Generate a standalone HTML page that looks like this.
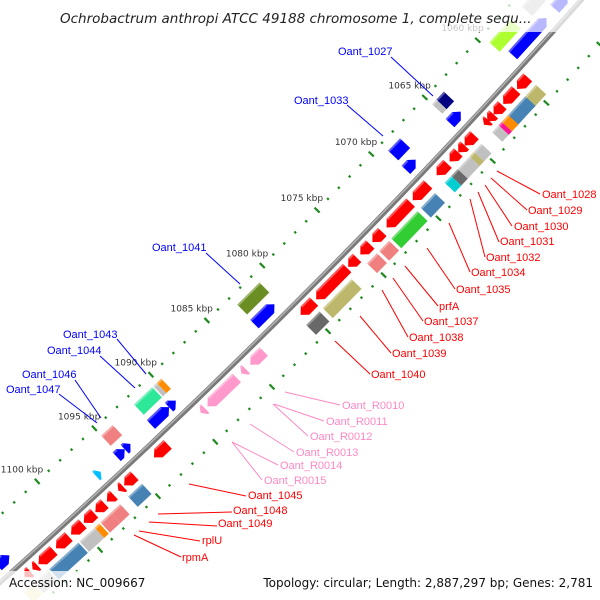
<!DOCTYPE html>
<html><head><meta charset="utf-8"><style>
html,body{margin:0;padding:0;background:#fff;width:600px;height:600px;overflow:hidden;}
svg{display:block;font-family:"Liberation Sans",sans-serif;overflow:hidden;}
</style></head><body>
<svg id="map" width="600" height="600" viewBox="0 0 600 600" xmlns="http://www.w3.org/2000/svg">
<g id="ticks"></g>
<g id="backbone"></g>
<g id="features"></g>
<g id="leaders"></g>
<g id="labels" font-size="11"></g>
<rect x="0" y="0" width="600" height="32" fill="#fff" fill-opacity="0.72"/>
<text x="60" y="23" font-size="13.5" font-style="italic" fill="#222" style="font-family:'DejaVu Sans',sans-serif">Ochrobactrum anthropi ATCC 49188 chromosome 1, complete sequ...</text>
<rect x="0" y="571" width="600" height="29" fill="#fff" fill-opacity="0.75"/>
<text x="9" y="587" font-size="12" fill="#111" style="font-family:'DejaVu Sans',sans-serif">Accession: NC_009667</text>
<text x="593" y="587" font-size="12" fill="#111" text-anchor="end" style="font-family:'DejaVu Sans',sans-serif">Topology: circular; Length: 2,887,297 bp; Genes: 2,781</text>
</svg>
<script>
// feature data (kbp)
const featStart = [1054.0,1055.2,1056.0,1057.6,1063.9,1064.6,1064.1,1068.0,1068.3,1080.9,1081.2,1089.7,1090.1,1090.5,1090.6,1090.0,1094.0,1094.0,1094.5,1096.6,1104.5,
1059.6,1059.6,1060.7,1060.6,1062.0,1062.8,1063.3,1062.2,1062.8,1063.1,1064.6,1065.5,1066.1,1067.1,1064.7,1065.4,1065.8,1066.9,1067.5,1068.9,1069.0,1070.5,1070.6,1073.1,1074.2,1073.2,1074.3,1075.4,1076.3,1076.6,1079.3,1079.5,
1083.8,1085.4,1086.2,1089.0,1092.3,1095.2,1096.2,1095.2,1097.0,1097.8,1098.7,1097.1,1097.9,1098.9,1099.3,1099.5,1099.7,1100.9,1102.2,1103.6,1104.2,1100.7,1103.3,1104.6];
const featEnd = [1055.2,1056.5,1059.2,1059.6,1064.6,1065.0,1065.1,1069.1,1069.2,1082.9,1083.0,1090.1,1090.4,1092.1,1092.2,1090.6,1095.0,1094.5,1095.2,1097.0,1105.5,
1060.6,1060.8,1061.9,1062.4,1062.8,1063.4,1063.7,1062.8,1063.1,1063.7,1065.5,1066.1,1066.9,1068.1,1065.4,1065.8,1066.9,1067.5,1068.1,1070.3,1070.3,1072.7,1073.0,1074.0,1075.1,1074.1,1075.2,1076.2,1079.1,1079.2,1080.5,1080.7,
1085.0,1085.8,1088.8,1089.4,1093.5,1096.1,1096.6,1096.4,1097.6,1098.6,1099.6,1097.9,1098.8,1099.3,1099.5,1100.6,1100.7,1102.0,1103.5,1104.0,1104.7,1103.2,1104.5,1105.4];
const featRing = ["fc","fg","fc","fg","fg","fg","fc","fg","fc","fg","fc","fg","fg","fg","fc","fc","fg","fc","fc","fc","fc",
"rc","rg","rc","rg","rc","rc","rc","rg","rg","rg","rc","rc","rc","rc","rg","rg","rg","rg","rg","rc","rg","rc","rg","rc","rc","rg","rg","rc","rc","rg","rc","rg",
"rc","rc","rc","rc","rc","rc","rc","rg","rc","rc","rc","rg","rg","rg","rg","rg","rc","rc","rc","rc","rc","rg","rg","rg"];
const featColor = ["#0000ff","#c0c0c0","#0000ff","#adff2f","#000080","#c0c0c0","#0000ff","#0000ff","#0000ff","#6b8e23","#0000ff","#ff8c00","#c0c0c0","#2ee89a","#0000ff","#0000ff","#f08080","#0000ff","#0000ff","#00bfff","#0000ff",
"#ff0000","#bdb76b","#ff0000","#4682b4","#ff0000","#ff0000","#ff0000","#ff8c00","#ff1493","#c0c0c0","#ff0000","#ff0000","#ff0000","#ff0000","#c0c0c0","#bdb76b","#c0c0c0","#696969","#00ced1","#ff0000","#4682b4","#ff0000","#32cd32","#ff0000","#ff0000","#f08080","#f08080","#ff0000","#ff0000","#bdb76b","#ff0000","#696969",
"#ff99cc","#ff99cc","#ff99cc","#ff99cc","#ff0000","#ff0000","#ff0000","#4682b4","#ff0000","#ff0000","#ff0000","#f08080","#f08080","#ff8c00","#c0c0c0","#c0c0c0","#ff0000","#ff0000","#ff0000","#ff0000","#ff0000","#4682b4","#c0c0c0","#eee8aa"];
const tickMin = 1053, tickMax = 1106;
const tickLabels = [1060,1065,1070,1075,1080,1085,1090,1095,1100];

const NS = "http://www.w3.org/2000/svg";
const CX = -4808, CY = -4797, R = 7215, REF = 1080.35, DEG = 360/2887.297;
function pt(k, d){ const t=(45+(k-REF)*DEG)*Math.PI/180; return [CX+(R+d)*Math.cos(t), CY+(R+d)*Math.sin(t)]; }
const ringD = {fc:-14, fg:-33, rc:12, rg:30};
const ringW = {fc:12, fg:14, rc:12, rg:14};
function el(tag, attrs, parent){ const e=document.createElementNS(NS,tag); for(const k in attrs) e.setAttribute(k,attrs[k]); parent.appendChild(e); return e; }
function P(p){ return p[0].toFixed(2)+","+p[1].toFixed(2); }

// backbone
const bb = document.getElementById('backbone');
let bpts=[]; for(let k=1050;k<=1110;k+=1) bpts.push(pt(k,0));
let bpts2=[]; for(let k=1050;k<=1110;k+=1) bpts2.push(pt(k,-1));
const b1 = el('polyline',{points:bpts.map(P).join(' '),fill:'none',stroke:'#7a7a7a','stroke-width':5},bb);


const b2 = el('polyline',{points:bpts2.map(P).join(' '),fill:'none',stroke:'#b4b4b4','stroke-width':1.5},bb);



// ticks
const tg = document.getElementById('ticks');
for(let k=tickMin;k<=tickMax;k++){
  const major = (k%5===0);
  const len = major?3.5:1.2;
  [-50,43].forEach(d=>{
    const a=pt(k,d-len), b=pt(k,d+len);
    const ln = el('line',{x1:a[0],y1:a[1],x2:b[0],y2:b[1],stroke:'#1e8a1e','stroke-width':2.2},tg);
    
    
  });
}
tickLabels.forEach(k=>{
  const p=pt(k,-50);
  const t = el('text',{x:p[0]+6,y:p[1]-9,'text-anchor':'end','font-size':9,fill:'#333',style:"font-family:'DejaVu Sans',sans-serif"},tg);
  t.textContent = k+' kbp';
  
  
});

// features
const fg = document.getElementById('features');
const HEAD = 0.4;
for(let i=0;i<featStart.length;i++){
  const s=featStart[i], e=featEnd[i], ring=featRing[i];
  const d=ringD[ring], w=ringW[ring], lo=d-w/2, hi=d+w/2;
  let pts;
  const cds = (ring==='fc'||ring==='rc');
  const h = Math.min(HEAD,(e-s)*0.7);
  if(cds && ring==='rc'){
    pts=[pt(s,lo),pt(e-h,lo),pt(e,d),pt(e-h,hi),pt(s,hi)];
  } else if(cds){
    pts=[pt(s,d),pt(s+h,lo),pt(e,lo),pt(e,hi),pt(s+h,hi)];
  } else {
    pts=[pt(s,lo),pt(e,lo),pt(e,hi),pt(s,hi)];
  }
  const poly = el('polygon',{points:pts.map(P).join(' '),fill:featColor[i]},fg);
  
  
  const hl = el('polyline',{points:[pt(s+(ring==='fc'?h:0),lo+1),pt(e-(ring==='rc'?h:0),lo+1)].map(P).join(' '),stroke:'#ffffff','stroke-opacity':0.35,'stroke-width':2,fill:'none'},fg);
  
  
}

const labelNames = ["Oant_1027","Oant_1033","Oant_1041","Oant_1043","Oant_1044","Oant_1046","Oant_1047",
"Oant_1028","Oant_1029","Oant_1030","Oant_1031","Oant_1032","Oant_1034","Oant_1035","prfA","Oant_1037","Oant_1038","Oant_1039","Oant_1040",
"Oant_R0010","Oant_R0011","Oant_R0012","Oant_R0013","Oant_R0014","Oant_R0015",
"Oant_1045","Oant_1048","Oant_1049","rplU","rpmA"];
const LB=[[338,55,391,57,433,96],[294,104,347,105,383,136],[152,251,206,253,240,284],[63,338,117,339,146,374],[47,354,100,356,135,388],[22,378,75,380,101,418],[6,393,59,394,97,423],
[542,198,497,171,540,194],[528,214,491,178,527,210],[514,230,485,185,512,226],[500,245,478,192,499,242],[486,261,470,199,485,257],[471,276,449,223,470,272],[456,293,427,248,455,289],[439,310,405,266,438,306],[424,325,393,278,423,321],[409,341,382,290,408,337],[392,357,360,316,391,353],[371,378,335,341,370,374],
[342,409,285,392,340,405],[326,425,274,404,324,421],[310,440,273,404,308,436],[296,456,250,424,294,452],[280,469,232,442,278,465],[264,484,232,442,262,480],
[248,499,189,484,246,496],[233,514,158,514,232,512],[218,527,149,522,217,526],[202,544,139,531,200,541],[182,561,134,535,181,557]];
const lg=document.getElementById('leaders'), lbg=document.getElementById('labels');
labelNames.forEach((n,i)=>{
  const c = i<7?'#0000ff':(i>=19&&i<25?'#ff88c4':'#ff0000');
  const L=LB[i];
  const ln=el('line',{x1:L[2],y1:L[3],x2:L[4],y2:L[5],stroke:c,'stroke-width':1},lg);
  
  
  const t=el('text',{x:L[0],y:L[1],fill:c},lbg);
  t.textContent=n;
  
  
});
</script>
</body></html>
